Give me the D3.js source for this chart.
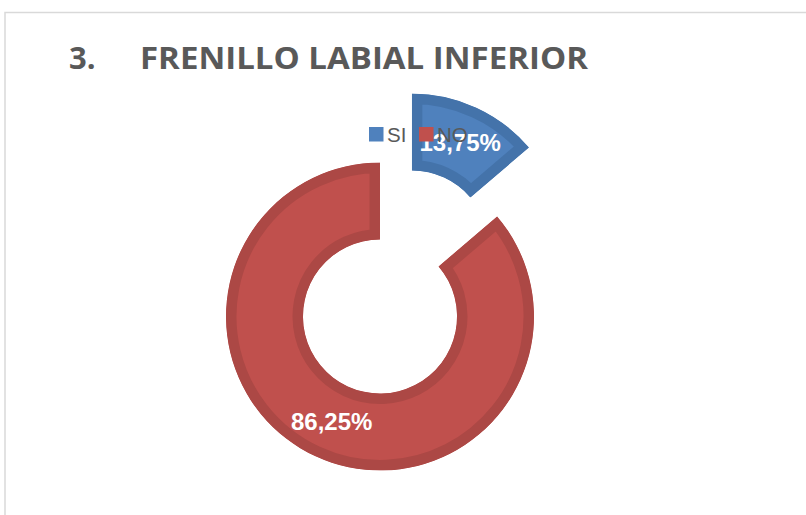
<!DOCTYPE html>
<html>
<head>
<meta charset="utf-8">
<script src="https://cdn.jsdelivr.net/npm/d3@7"></script>
<style>
  html, body { margin: 0; padding: 0; background: #ffffff; }
  svg { display: block; }
</style>
</head>
<body>
<script>
// ---- data ----
const categories = ["SI", "NO"];
const values = [13.75, 86.25];
const valueLabels = ["13,75%", "86,25%"];
const fillColors = ["#4f81bd", "#c0504d"];
const strokeColors = ["#4473aa", "#ac4845"];
const explodedCategory = "SI";
const titleNumber = "3.";
const titleText = "FRENILLO LABIAL INFERIOR";

// ---- layout ----
const W = 806, H = 515;
const cx = 380, cy = 316.5;
const outerR = 154, innerR = 77;
const explode = 76;
const borderW = 10.5;

const svg = d3.select("body").append("svg")
  .attr("width", W).attr("height", H)
  .attr("viewBox", `0 0 ${W} ${H}`);

svg.append("rect").attr("width", W).attr("height", H).attr("fill", "#ffffff");

// chart frame
svg.append("rect")
  .attr("x", 5).attr("y", 12.5)
  .attr("width", W + 50).attr("height", H + 50)
  .attr("fill", "none")
  .attr("stroke", "#d9d9d9")
  .attr("stroke-width", 1.5);

// title
svg.append("text")
  .attr("x", 69).attr("y", 69)
  .attr("font-family", "'Open Sans', 'DejaVu Sans', sans-serif")
  .attr("font-weight", 700)
  .attr("font-size", 31)
  .attr("fill", "#595959")
  .text(titleNumber);
svg.append("text")
  .attr("x", 140).attr("y", 69)
  .attr("font-family", "'Open Sans', 'DejaVu Sans', sans-serif")
  .attr("font-weight", 700)
  .attr("font-size", 31)
  .attr("fill", "#595959")
  .attr("textLength", 448)
  .attr("lengthAdjust", "spacingAndGlyphs")
  .text(titleText);

// pie
const data = categories.map((c, i) => ({ cat: c, value: values[i], label: valueLabels[i], fill: fillColors[i], stroke: strokeColors[i] }));
const pie = d3.pie().sort(null).value(d => d.value).startAngle(0).endAngle(2 * Math.PI);
const arcs = pie(data);
const arc = d3.arc().innerRadius(innerR).outerRadius(outerR);

const defs = svg.append("defs");
const g = svg.append("g").attr("transform", `translate(${cx},${cy})`);

arcs.forEach((a, i) => {
  const mid = (a.startAngle + a.endAngle) / 2;
  const off = a.data.cat === explodedCategory ? explode : 0;
  const dx = off * Math.sin(mid), dy = -off * Math.cos(mid);
  const sg = g.append("g").attr("transform", `translate(${dx},${dy})`);
  const id = "clip" + i;
  defs.append("clipPath").attr("id", id)
    .append("path").attr("d", arc(a));
  sg.append("path")
    .attr("d", arc(a))
    .attr("fill", a.data.fill)
    .attr("stroke", a.data.stroke)
    .attr("stroke-width", borderW * 2)
    .attr("stroke-linejoin", "miter")
    .attr("clip-path", `url(#${id})`);
  const c = arc.centroid(a);
  sg.append("text")
    .attr("x", c[0]).attr("y", c[1])
    .attr("dy", "0.36em")
    .attr("text-anchor", "middle")
    .attr("font-family", "'Liberation Sans', Arial, sans-serif")
    .attr("font-weight", 700)
    .attr("font-size", 24)
    .attr("fill", "#ffffff")
    .text(a.data.label);
});

// legend
const legend = svg.append("g");
const legendX = [369, 419];
categories.forEach((c, i) => {
  legend.append("rect")
    .attr("x", legendX[i]).attr("y", 127)
    .attr("width", 14.5).attr("height", 14.5)
    .attr("fill", fillColors[i]);
  legend.append("text")
    .attr("x", legendX[i] + 18).attr("y", 142)
    .attr("font-family", "'Liberation Sans', Arial, sans-serif")
    .attr("font-size", 20.5)
    .attr("fill", "#595959")
    .text(c);
});
</script>
</body>
</html>
